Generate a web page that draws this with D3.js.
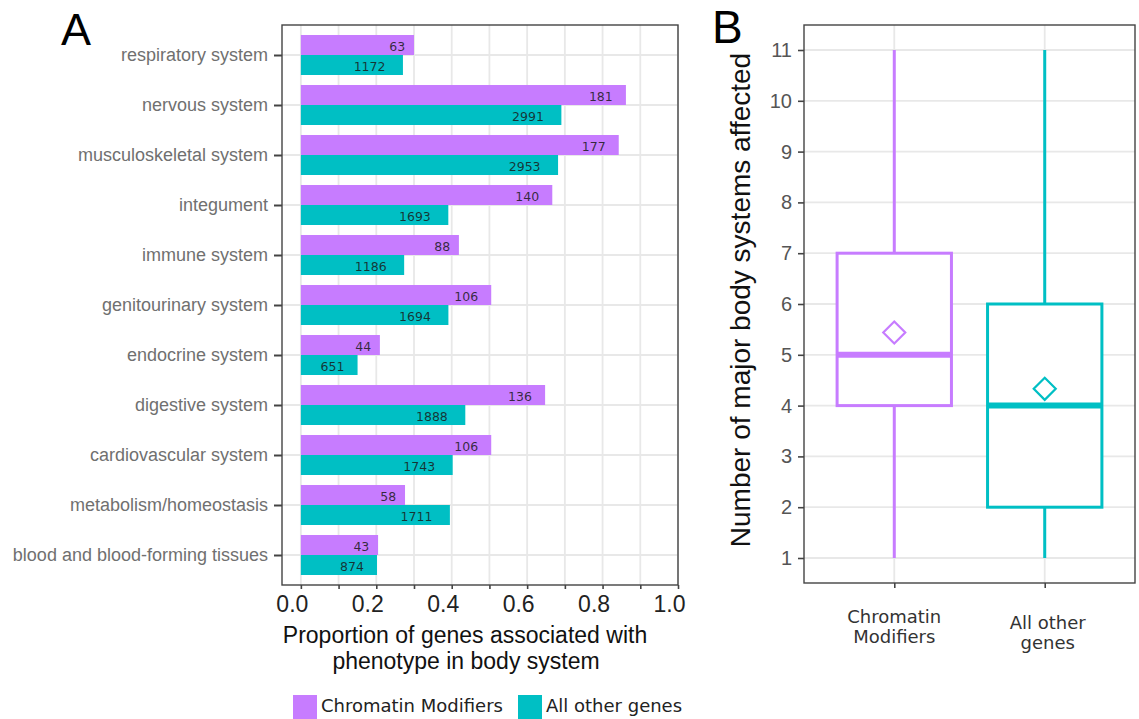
<!DOCTYPE html>
<html>
<head>
<meta charset="utf-8">
<script src="https://cdn.jsdelivr.net/npm/d3@7"></script>
<style>
  html, body { margin: 0; padding: 0; background: #fff; }
  svg { display: block; }
</style>
</head>
<body>
<svg id="fig" width="1139" height="719"></svg>
<script>
// Body systems, top to bottom
const systems = [
  "respiratory system", "nervous system", "musculoskeletal system", "integument",
  "immune system", "genitourinary system", "endocrine system", "digestive system",
  "cardiovascular system", "metabolism/homeostasis", "blood and blood-forming tissues"
];
// Number of genes with a phenotype in each system
const chromatinCounts = [63, 181, 177, 140, 88, 106, 44, 136, 106, 58, 43];
const otherCounts = [1172, 2991, 2953, 1693, 1186, 1694, 651, 1888, 1743, 1711, 874];
// Group sizes used for the proportions
const chromatinTotal = 210;
const otherTotal = 4330;

const groups = ["Chromatin Modifiers", "All other genes"];
const groupColors = ["#C77CFF", "#00BFC4"];

const xTicksA = [0, 0.2, 0.4, 0.6, 0.8, 1.0];
const xGridA = [0, 0.1, 0.2, 0.3, 0.4, 0.5, 0.6, 0.7, 0.8, 0.9, 1.0];

// Box plot summaries: number of major body systems affected
const boxGroups = ["Chromatin\nModifiers", "All other\ngenes"];
const whiskerLow = [1, 1];
const q1 = [4, 2];
const medians = [5, 4];
const q3 = [7, 6];
const whiskerHigh = [11, 11];
const means = [5.44, 4.33];
const yTicksB = [1, 2, 3, 4, 5, 6, 7, 8, 9, 10, 11];

const svg = d3.select("#fig");
const sansA = "'Liberation Sans', Arial, Helvetica, sans-serif";
const sansB = "'DejaVu Sans', Verdana, sans-serif";
const gridColor = "#e8e8e8";

// ---------------- Panel A: horizontal grouped bars ----------------
const A = { left: 282, right: 678, top: 25, bottom: 585 };
const xA = d3.scaleLinear().domain([-0.05, 1]).range([A.left, A.right]);
const yA = d3.scalePoint().domain(systems).range([A.top, A.bottom]).padding(0.6);
const barH = yA.step() * 0.4;

const gA = svg.append("g");

// grid
gA.selectAll("line.vgrid").data(xGridA).join("line")
  .attr("x1", d => xA(d)).attr("x2", d => xA(d))
  .attr("y1", A.top).attr("y2", A.bottom)
  .attr("stroke", gridColor).attr("stroke-width", 1.8);
gA.selectAll("line.hgrid").data(systems).join("line")
  .attr("x1", A.left).attr("x2", A.right)
  .attr("y1", d => yA(d)).attr("y2", d => yA(d))
  .attr("stroke", gridColor).attr("stroke-width", 1.8);

const rows = systems.map((s, i) => ({
  system: s,
  vals: [
    { g: 0, count: chromatinCounts[i], p: chromatinCounts[i] / chromatinTotal },
    { g: 1, count: otherCounts[i], p: otherCounts[i] / otherTotal }
  ]
}));

const barG = gA.selectAll("g.row").data(rows).join("g");
barG.selectAll("rect").data(d => d.vals.map(v => ({ ...v, s: d.system }))).join("rect")
  .attr("x", xA(0))
  .attr("y", d => yA(d.s) - barH + d.g * barH)
  .attr("width", d => xA(d.p) - xA(0))
  .attr("height", barH)
  .attr("fill", d => groupColors[d.g]);

barG.selectAll("text").data(d => d.vals.map(v => ({ ...v, s: d.system }))).join("text")
  .attr("y", d => yA(d.s) - barH / 2 + d.g * barH + 1)
  .attr("dominant-baseline", "central")
  .attr("text-anchor", "end")
  .attr("font-family", sansB).attr("font-size", 12.5)
  .attr("fill", "#1a1a1a").attr("fill-opacity", 0.85)
  .text(d => d.count)
  .each(function (d) {
    const w = this.getComputedTextLength();
    d3.select(this).attr("x", xA(d.p) - 0.55 * w);
  });

// border
gA.append("rect")
  .attr("x", A.left).attr("y", A.top)
  .attr("width", A.right - A.left).attr("height", A.bottom - A.top)
  .attr("fill", "none").attr("stroke", "#444").attr("stroke-width", 1.4);

// y axis (categories)
const yAxisA = gA.append("g").attr("transform", `translate(${A.left},0)`)
  .call(d3.axisLeft(yA).tickSize(8).tickPadding(6));
yAxisA.select(".domain").remove();
yAxisA.selectAll(".tick line").attr("stroke", "#444").attr("stroke-width", 2);
yAxisA.selectAll(".tick text")
  .attr("font-family", sansA).attr("font-size", 18).attr("fill", "#707070");

// x axis
const xAxisA = gA.append("g").attr("transform", `translate(0,${A.bottom})`)
  .call(d3.axisBottom(xA).tickValues(xGridA).tickSize(4).tickPadding(6)
    .tickFormat(d => xTicksA.some(t => Math.abs(t - d) < 1e-9) ? d3.format(".1f")(d) : ""));
xAxisA.select(".domain").remove();
xAxisA.selectAll(".tick line").attr("stroke", "#444").attr("stroke-width", 1.6);
xAxisA.selectAll(".tick text")
  .attr("font-family", sansA).attr("font-size", 23).attr("fill", "#222")
  .attr("dx", -9).attr("dy", "0.75em");

// x title
const xTitle = gA.append("text")
  .attr("x", 465).attr("y", 643)
  .attr("text-anchor", "middle")
  .attr("font-family", sansA).attr("font-size", 23).attr("fill", "#111");
xTitle.append("tspan").attr("x", 465).text("Proportion of genes associated with");
xTitle.append("tspan").attr("x", 466).attr("dy", 26).text("phenotype in body system");

// panel tag
svg.append("text").attr("x", 61).attr("y", 45)
  .attr("font-family", sansA).attr("font-size", 45).attr("fill", "#000").text("A");

// legend
const legend = svg.append("g").attr("font-family", sansB).attr("font-size", 18).attr("fill", "#222");
const legendX = [293, 518];
groups.forEach((g, i) => {
  legend.append("rect").attr("x", legendX[i]).attr("y", 695)
    .attr("width", 24).attr("height", 24).attr("fill", groupColors[i]);
  legend.append("text").attr("x", legendX[i] + 28).attr("y", 712).text(g);
});

// ---------------- Panel B: box plots ----------------
const B = { left: 804, right: 1135, top: 25, bottom: 583 };
const xB = d3.scalePoint().domain(boxGroups).range([B.left, B.right]).padding(0.6);
const yB = d3.scaleLinear().domain([0.5, 11.5]).range([583.4, 24.6]);
const boxW = xB.step() * 0.76;

const gB = svg.append("g");

gB.selectAll("line.hgrid").data(yTicksB).join("line")
  .attr("x1", B.left).attr("x2", B.right)
  .attr("y1", d => yB(d)).attr("y2", d => yB(d))
  .attr("stroke", gridColor).attr("stroke-width", 1.8);
gB.selectAll("line.vgrid").data(boxGroups).join("line")
  .attr("x1", d => xB(d)).attr("x2", d => xB(d))
  .attr("y1", B.top).attr("y2", B.bottom)
  .attr("stroke", gridColor).attr("stroke-width", 1.8);

const boxes = boxGroups.map((g, i) => ({
  g, i, lo: whiskerLow[i], q1: q1[i], med: medians[i], q3: q3[i], hi: whiskerHigh[i], mean: means[i]
}));

const bx = gB.selectAll("g.box").data(boxes).join("g")
  .attr("stroke", d => groupColors[d.i]).attr("fill", "none");
bx.append("line")
  .attr("x1", d => xB(d.g)).attr("x2", d => xB(d.g))
  .attr("y1", d => yB(d.hi)).attr("y2", d => yB(d.q3))
  .attr("stroke-width", 3);
bx.append("line")
  .attr("x1", d => xB(d.g)).attr("x2", d => xB(d.g))
  .attr("y1", d => yB(d.q1)).attr("y2", d => yB(d.lo))
  .attr("stroke-width", 3);
bx.append("rect")
  .attr("x", d => xB(d.g) - boxW / 2).attr("width", boxW)
  .attr("y", d => yB(d.q3)).attr("height", d => yB(d.q1) - yB(d.q3))
  .attr("fill", "#fff").attr("stroke-width", 3);
bx.append("line")
  .attr("x1", d => xB(d.g) - boxW / 2).attr("x2", d => xB(d.g) + boxW / 2)
  .attr("y1", d => yB(d.med)).attr("y2", d => yB(d.med))
  .attr("stroke-width", 6);
bx.append("path")
  .attr("d", d => {
    const cx = xB(d.g), cy = yB(d.mean), r = 11;
    return `M${cx},${cy - r}L${cx + r},${cy}L${cx},${cy + r}L${cx - r},${cy}Z`;
  })
  .attr("stroke-width", 2.2);

gB.append("rect")
  .attr("x", B.left).attr("y", B.top)
  .attr("width", B.right - B.left).attr("height", B.bottom - B.top)
  .attr("fill", "none").attr("stroke", "#444").attr("stroke-width", 1.4);

const yAxisB = gB.append("g").attr("transform", `translate(${B.left},0)`)
  .call(d3.axisLeft(yB).tickValues(yTicksB).tickSize(6).tickPadding(6));
yAxisB.select(".domain").remove();
yAxisB.selectAll(".tick line").attr("stroke", "#444").attr("stroke-width", 1.6);
yAxisB.selectAll(".tick text")
  .attr("font-family", sansA).attr("font-size", 20).attr("fill", "#555");

const xAxisB = gB.append("g").attr("transform", `translate(0,${B.bottom})`)
  .call(d3.axisBottom(xB).tickSize(5).tickFormat(""));
xAxisB.select(".domain").remove();
xAxisB.selectAll(".tick line").attr("stroke", "#444").attr("stroke-width", 1.6);

// two-line category labels under the boxes
const labelShift = [0, 6];
gB.selectAll("text.xlab").data(boxGroups).join("text")
  .attr("text-anchor", "middle")
  .attr("font-family", sansB).attr("font-size", 18).attr("fill", "#333")
  .each(function (d, i) {
    const t = d3.select(this);
    d.split("\n").forEach((line, k) => {
      t.append("tspan").attr("x", xB(d) + (i === 1 ? 3 : 0))
        .attr("y", 623 + labelShift[i] + k * 20).text(line);
    });
  });

svg.append("text")
  .attr("transform", "translate(750,300) rotate(-90)")
  .attr("text-anchor", "middle")
  .attr("font-family", sansA).attr("font-size", 28).attr("fill", "#111")
  .text("Number of major body systems affected");

svg.append("text").attr("x", 712).attr("y", 43)
  .attr("font-family", sansA).attr("font-size", 46).attr("fill", "#000").text("B");
</script>
</body>
</html>
